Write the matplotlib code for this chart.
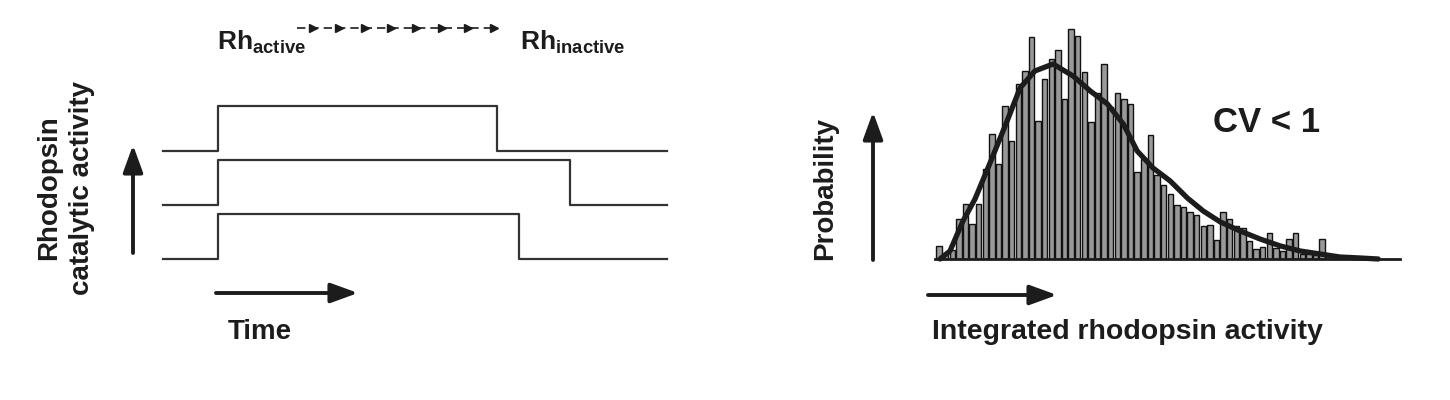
import numpy as np
import matplotlib
matplotlib.use('Agg')
import matplotlib.pyplot as plt

plt.rcParams['font.family'] = ['Liberation Sans', 'DejaVu Sans']

# left panel: three single-rhodopsin responses (on / off times, arbitrary units)
t_on = [11.0, 11.0, 11.0]
t_off = [66.3, 80.8, 70.6]
t_end = 100.0
trace_gap = 1.2

# right panel: histogram of integrated activity (counts per bin) and the fit
counts = [13, 5, 9, 40, 55, 35, 55, 90, 125, 95, 153, 118, 175, 188,
          222, 138, 180, 200, 209, 160, 230,
          223, 187, 137, 166, 195, 152, 166, 160, 155, 87,
          100, 124, 84, 74, 65, 54, 52, 47, 44, 33,
          34, 19, 47, 40, 33, 31, 18, 10, 12, 26,
          11, 8, 20, 26, 5, 5, 4, 20, 4]
fit_x = [0.14, 1.65, 3.62, 5.44, 7.71, 10.3, 12.26, 14.5, 17.26, 20.3, 22.9,
         25.5, 27.9, 30.0, 32.4, 35.0, 37.6, 40.0, 42.6, 45.6, 48.6, 51.7,
         54.7, 57.7, 60.7, 63.8, 66.5]
fit_y = [0, 8, 38, 60, 96, 138, 171, 188, 195, 183, 168, 155, 135, 108, 91,
         78, 61, 48, 37, 28, 20, 13, 8, 5, 2, 1, 0]

ink = '#1c1c1c'
W, H = 1450, 400
fig = plt.figure(figsize=(W / 100, H / 100), dpi=100)

# traces
ax1 = fig.add_axes([163 / W, (H - 259) / H, 504 / W, 153 / H])
for i in range(3):
    off = (2 - i) * trace_gap
    xs = [0, t_on[i], t_off[i], t_end]
    ys = [off, off + 1, off, off]
    ax1.plot(xs, ys, drawstyle='steps-post', color='#333333', lw=1.6,
             clip_on=False)
ax1.set_xlim(0, t_end)
ax1.set_ylim(0, 2 * trace_gap + 1)
ax1.axis('off')

# histogram
ax2 = fig.add_axes([935 / W, (H - 259) / H, 465 / W, 232 / H])
bins = np.arange(len(counts))
ax2.bar(bins, counts, width=0.82, color='#999999', edgecolor='#111111',
        linewidth=1.0)
ax2.plot(fit_x, fit_y, color=ink, lw=3.8, solid_capstyle='round',
         clip_on=False)
ax2.axhline(0, color=ink, lw=2, clip_on=False)
ax2.set_xlim(-0.62, 69.8)
ax2.set_ylim(0, 232)
ax2.axis('off')

# overlay in pixel coordinates for labels and arrows
ov = fig.add_axes([0, 0, 1, 1])
ov.set_xlim(0, W)
ov.set_ylim(H, 0)
ov.axis('off')
ov.patch.set_alpha(0)

def arrow(x0, y0, x1, y1):
    ov.annotate('', xy=(x1, y1), xytext=(x0, y0),
                arrowprops=dict(arrowstyle='-|>,head_length=0.55,head_width=0.2',
                                mutation_scale=30, lw=2.8, color=ink,
                                shrinkA=0, shrinkB=0))

arrow(133, 253, 133, 145)
arrow(216, 293, 358, 293)
arrow(873, 260, 873, 112)
arrow(928, 295, 1057, 295)

# dashed chain of small arrows between the two states
ov.plot([297, 494], [28, 28], color=ink, lw=1.2, dashes=(5, 3))
for xa in np.linspace(313, 494, 8):
    ov.plot(xa, 28, marker='>', ms=5.5, color=ink, mec=ink)

ov.text(217, 50, r'Rh$_{\mathregular{active}}$', fontsize=19, color=ink,
        fontweight='bold', va='baseline', ha='left')
ov.text(520, 50, r'Rh$_{\mathregular{inactive}}$', fontsize=19, color=ink,
        fontweight='bold', va='baseline', ha='left')

ov.text(66, 188, 'Rhodopsin\ncatalytic activity', rotation=90, fontsize=20,
        fontweight='bold', color=ink, ha='center', va='center',
        linespacing=1.35, multialignment='center')
ov.text(260, 332, 'Time', fontsize=20, fontweight='bold', color=ink,
        ha='center', va='center')
ov.text(825, 188, 'Probability', rotation=90, fontsize=20, fontweight='bold',
        color=ink, ha='center', va='center')
ov.text(932, 332, 'Integrated rhodopsin activity', fontsize=20.5,
        fontweight='bold', color=ink, ha='left', va='center')
ov.text(1213, 123, 'CV < 1', fontsize=25, fontweight='bold', color=ink,
        ha='left', va='center')

fig.savefig('out.png', dpi=100, facecolor='white')
